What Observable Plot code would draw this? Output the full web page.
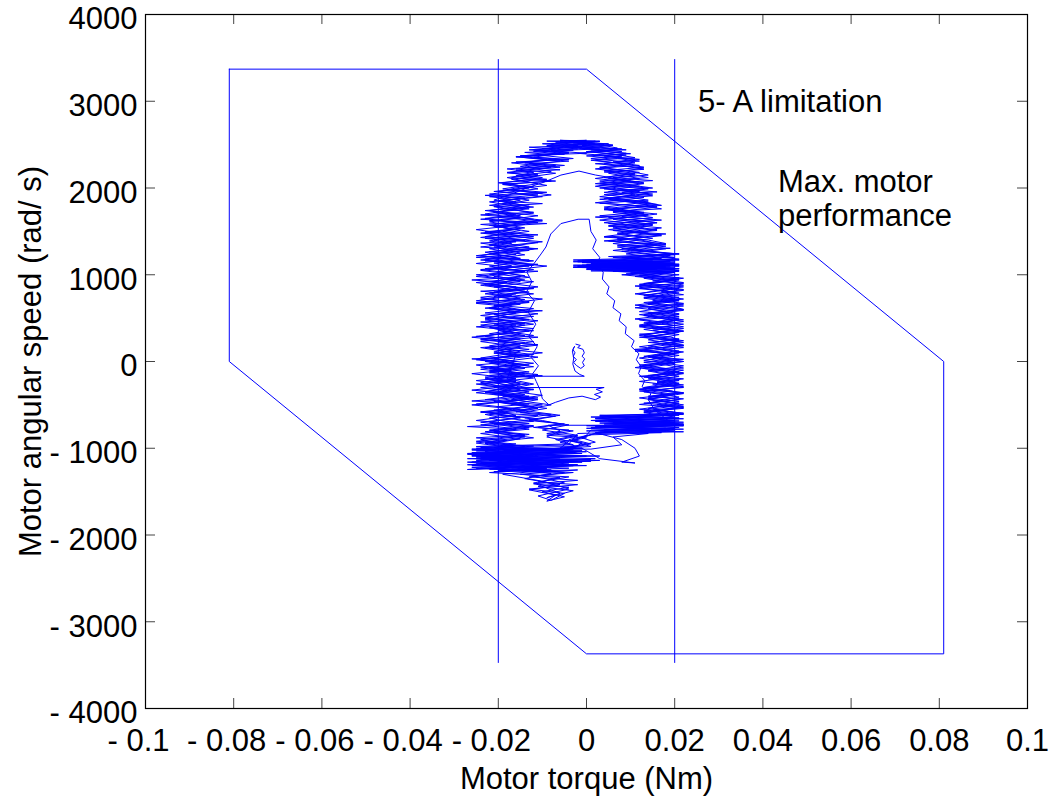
<!DOCTYPE html>
<html>
<head>
<meta charset="utf-8">
<script src="https://cdn.jsdelivr.net/npm/d3@7"></script>
<script src="https://cdn.jsdelivr.net/npm/@observablehq/plot@0.6"></script>
<style>
  html, body { margin: 0; padding: 0; background: #ffffff; }
</style>
</head>
<body>
<div id="chart"></div>
<script>
// Axis ticks
const xTicks = [-0.1, -0.08, -0.06, -0.04, -0.02, 0, 0.02, 0.04, 0.06, 0.08, 0.1];
const yTicks = [-4000, -3000, -2000, -1000, 0, 1000, 2000, 3000, 4000];

// Maximum motor performance envelope (torque in Nm, speed in rad/s)
const envelopeTorque = [-0.081, 0, 0.081, 0.081, 0, -0.081, -0.081];
const envelopeSpeed  = [3370, 3370, 0, -3370, -3370, 0, 3370];

// 5-A current limitation (torque in Nm) and the speed span of its lines
const currentLimitTorque = [-0.02, 0.02];
const currentLimitSpeed = [-3480, 3480];

// Measured operating trajectory: [torque (mNm), speed (rad/s)]
// start-up near standstill, spreading outward
const startUp = [
  [-2.4,200],[-1.4,185],[-2.0,160],[-0.8,140],[-0.5,100],[-1.0,60],[-0.4,30],[-0.9,-10],[-0.5,-50],[-1.3,-80],
  [-2.3,-45],[-2.9,-10],[-2.3,20],[-3.0,60],[-2.6,100],[-3.1,140],[-2.7,175],[-3.2,120],[-2.9,40],[-3.1,-30],
  [-2.6,-110],[-1.5,-150],[-0.5,-170],[-19.5,-170],[-20,-200],[-17,-260],[-15,-300],[4,-300],[2.2,-320],[3.6,-350],
  [1.8,-380],[3.2,-410],[2,-440],[-1,-400],[-4,-420],[-7,-470],[-8.5,-500],[-10,-430],[-10.5,-330],
  [-11.4,-230],[-12.2,-140],[-10.9,-50],[-12.6,50],[-11.2,170],[-13.1,290],[-11.5,430],[-13.2,570],[-11.8,700],
  [-13.6,800],[-12.4,920],[-13.5,1030],[-11.9,1130],[-10.3,1240],[-9.2,1320],[-8.1,1470],[-5.8,1590],[-1.9,1640],
  [0.6,1640],[1.0,1500],[2.2,1400],[1.4,1300],[3.0,1200],[2.4,1110],[3.8,1030],[3.6,950],[5.1,860],[4.6,780],
  [6.4,700],[6.0,620],[7.8,550],[7.4,470],[9.0,400],[8.8,320],[10.8,240],[10.2,170],[11.9,90],[11.3,20],
  [12.4,-60],[11.8,-140],[13.2,-220],[12.6,-290],[14.6,-370],[14.0,-440],[15.5,-560],[18,-660],[19.8,-735],
  [-8.7,-735],[-6,-800],[-9,-870],[-4,-920],[-6,-1000]
];

const cycle1 = [
  [-4,-1050],[-26,-1080],[-6,-1110],[-25,-1140],[-10,-1120],[-24,-1090],
  [-14,-980],[-23,-930],[-12,-880],[-21,-820],[-13,-760],[-24,-700],[-15,-650],[-22,-590],[-11,-540],[-20,-470],
  [-14,-420],[-25,-360],[-16,-300],[-21,-240],[-12,-190],[-22,-120],[-15,-60],[-23,0],[-13,60],[-20,130],
  [-11,190],[-24,250],[-15,320],[-21,380],[-12,430],[-23,500],[-16,560],[-22,620],[-13,690],[-21,750],
  [-14,810],[-24,880],[-16,940],[-22,1000],[-12,1060],[-25,1130],[-15,1190],[-23,1260],[-13,1320],[-22,1390],
  [-15,1450],[-25,1520],[-14,1580],[-23,1650],[-12,1710],[-21,1790],[-13,1860],[-22,1930],[-11,1990],[-19,2060],
  [-10,2120],[-18,2180],
  [-8,2240],[-17,2290],[-6,2330],[-15,2370],[-4,2410],[-12,2440],[-1,2470],[-9,2490],[2,2510],[-5,2530],
  [4,2500],[-3,2480],[7,2450],[0,2420],[9,2380],[1,2340],[11,2290],[3,2240],[12,2180],[4,2120],[13,2060],[3,2000],
  [14,1940],[5,1880],[15,1820],[4,1760],[16,1700],[6,1640],[15,1580],[5,1520],[17,1460],[7,1400],[16,1340],
  [6,1280],[19,1220],[9,1160],
  [21,1120],[-2,1100],[20,1080],[0,1060],[21,1040],[8,1000],
  [21,940],[12,880],[22,820],[13,760],[21,700],[12,640],[20,580],[14,520],[22,460],[12,400],[21,340],[13,280],
  [22,220],[14,160],[21,100],[12,40],[20,-20],[13,-80],[22,-140],[14,-200],[21,-260],[12,-320],[20,-380],
  [14,-440],[22,-500],[13,-560],[21,-620],
  [2,-660],[22,-700],[4,-720],[21,-760],[1,-790],
  [0,-850],[-3,-920],[1,-980],[-6,-1000]
];

const cycle2 = [
  [-2,-1060],[-25,-1030],[-1,-1000],[-27,-1070],[2,-1120],[-24,-1170],[-3,-1200],[-22,-1240],[-5,-1280],
  [-13,-1330],[-2,-1370],[-12,-1410],[-4,-1450],[-10,-1500],[-5,-1560],[-9,-1610],[-7,-1540],[-13,-1480],
  [-6,-1420],[-14,-1350],[-8,-1290],[-26,-1220],[-10,-1180],[-25,-1120],[-12,-1080],[-23,-1040],
  [-17,-960],[-24,-900],[-14,-850],[-22,-790],[-12,-740],[-25,-680],[-16,-620],[-21,-560],[-10,-500],[-23,-440],
  [-14,-380],[-26,-330],[-15,-270],[-22,-210],[-11,-150],[-24,-90],[-16,-30],[-21,40],[-10,100],[-22,160],
  [-14,220],[-26,280],[-13,350],[-20,410],[-11,470],[-24,530],[-14,590],[-21,650],[-10,720],[-23,780],
  [-15,850],[-25,910],[-13,970],[-20,1040],[-9,1100],[-24,1170],[-14,1230],[-22,1300],[-11,1370],[-24,1430],
  [-13,1500],[-21,1560],[-10,1630],[-23,1700],[-14,1770],[-22,1840],[-10,1900],[-20,1960],[-9,2030],[-17,2100],
  [-7,2170],[-16,2220],
  [-5,2260],[-14,2300],[-3,2340],[-11,2380],[0,2400],[-8,2430],[3,2450],[-5,2470],[5,2430],[-2,2400],
  [8,2360],[1,2320],[10,2270],[2,2220],[11,2170],[2,2110],[13,2050],[4,1990],[15,1930],[3,1870],
  [16,1810],[5,1750],[14,1690],[3,1630],[15,1570],[6,1510],[17,1450],[5,1390],[18,1330],[8,1270],[20,1200],
  [-3,1170],[19,1150],[1,1130],[20,1110],[-1,1090],[21,1070],[10,1020],
  [22,960],[13,900],[21,840],[11,780],[20,720],[14,660],[22,600],[12,540],[21,480],[13,420],[20,360],[12,300],
  [22,240],[14,180],[21,120],[13,60],[22,0],[12,-60],[21,-120],[14,-180],[20,-240],[13,-300],[22,-360],
  [12,-420],[21,-480],[14,-540],[22,-600],
  [3,-620],[21,-650],[2,-690],[22,-730],[5,-760],[20,-800],[2,-820],
  [8,-900],[11,-1000],[12,-1090],[8,-1160],[11,-1170],[3,-1120],[-1,-1000]
];

const cycle3 = [
  [-26,-1010],[0,-1040],[-25,-1100],[-2,-1150],[-27,-1190],[-4,-1230],[-20,-1260],[-3,-1200],[-18,-1140],
  [-5,-1090],[-16,-1040],[-2,-980],[-6,-930],
  [0,-880],[-9,-850],[-3,-800],[-11,-760],[-5,-720],[-13,-680],[-7,-630],[-15,-590],[-9,-540],[-17,-490],
  [-11,-440],[-19,-400],[-13,-350],[-21,-300],[-15,-250],[-23,-200],
  [-14,-140],[-22,-80],[-12,-20],[-24,40],[-15,110],[-20,170],[-12,230],[-23,290],[-16,360],[-24,420],
  [-13,480],[-21,540],[-12,610],[-25,670],[-15,730],[-22,790],[-11,860],[-21,920],[-14,990],[-24,1050],
  [-12,1110],[-23,1180],[-15,1250],[-21,1320],[-10,1380],[-23,1440],[-15,1510],[-22,1570],[-12,1640],[-21,1720],
  [-13,1790],[-20,1850],[-8,1920],[-19,1990],[-11,2050],[-18,2120],[-8,2190],[-15,2250],
  [-6,2310],[-16,2360],[-4,2400],[-13,2440],[-2,2480],[-10,2510],[1,2530],[-6,2550],[3,2540],[-3,2520],
  [6,2490],[-1,2460],[8,2420],[2,2380],[12,2330],[4,2280],[13,2230],[5,2170],[12,2110],[2,2050],[14,2000],
  [4,1950],[13,1890],[2,1830],
  [16,1780],[6,1720],[15,1660],[4,1600],[17,1540],[7,1480],[15,1420],[6,1360],[18,1300],[9,1240],[21,1180],
  [-2,1150],[20,1130],[-3,1110],[19,1090],[0,1070],[21,1050],[9,1010],
  [21,950],[12,890],[22,830],[14,770],[21,710],[11,650],[22,590],[13,530],[20,470],[12,410],[22,350],[15,290],
  [21,230],[12,170],[22,110],[14,50],[20,-10],[11,-70],[22,-130],[15,-190],[21,-250],[13,-310],[22,-370],
  [14,-430],[21,-490],[12,-550],[22,-610],
  [1,-640],[20,-680],[3,-710],[22,-740],[0,-770],[18,-800],[-2,-830],[-4,-950]
];

const cycle4 = [
  [-25,-980],[-3,-1010],[-26,-1050],[0,-1090],[-24,-1110],[3,-1140],[-23,-1180],[-6,-1210],[-18,-1250],
  [-3,-1280],[-12,-1320],[-5,-1400],[-11,-1440],[-3,-1490],[-9,-1570],[-6,-1520],[-12,-1400],[-4,-1330],
  [-22,-1280],[-9,-1240],[-27,-1160],[-13,-1120],[-24,-1060],
  [-13,-1010],[-22,-950],[-15,-890],[-24,-830],[-13,-780],[-21,-720],[-11,-660],[-22,-610],[-15,-550],
  [-25,-490],[-13,-430],[-20,-370],[-12,-320],[-24,-260],[-16,-200],[-26,-140],[-14,-80],[-22,-20],[-11,50],
  [-21,110],[-15,170],[-24,230],[-12,300],[-20,360],[-14,420],[-23,480],[-11,550],[-22,610],[-16,670],
  [-24,740],[-13,800],[-21,860],[-12,920],[-25,980],[-14,1040],[-22,1100],[-12,1160],[-24,1220],[-16,1290],
  [-22,1350],[-12,1420],[-24,1480],[-14,1540],[-22,1610],[-11,1680],[-22,1740],[-14,1800],[-21,1860],[-17,1930],
  [-13,2010],[-9.6,2068],[-5.8,2149],[-1.7,2195],[2,2150],
  [10,2080],[2,2020],[12,1960],[3,1900],[14,1840],[4,1780],[13,1720],[5,1660],[16,1600],[6,1540],[14,1480],
  [7,1420],[17,1360],[8,1300],[19,1240],[10,1190],
  [20,1160],[-1,1140],[21,1120],[-2,1100],[18,1080],[2,1060],[20,1030],
  [13,970],[22,910],[12,850],[21,790],[13,730],[22,670],[14,610],[21,550],[11,490],[22,430],[13,370],[21,310],
  [14,250],[22,190],[12,130],[21,70],[13,10],[22,-50],[14,-110],[21,-170],[12,-230],[22,-290],[13,-350],
  [21,-410],[15,-470],[22,-530],[13,-590],[20,-640],
  [1,-680],[21,-720],[2,-750],[22,-780],[4,-810],[14,-830],[6,-870],[8,-960],[1,-1010]
];

const cycle5 = [
  [-26,-1020],[-1,-1060],[-25,-1100],[1,-1130],[-26,-1160],[-2,-1190],[-24,-1230],[-8,-1260],[-20,-1200],
  [-10,-1140],[-23,-1080],[-16,-1000],[-25,-940],[-14,-870],[-23,-810],[-12,-750],[-22,-700],[-15,-640],
  [-24,-580],[-12,-520],[-21,-460],[-13,-400],[-23,-350],[-16,-280],[-25,-220],[-14,-160],[-22,-100],
  [-13,-40],[-24,20],[-16,80],
  [-18,-200],[-12,-260],[-19,-330],[-10,-390],[-17,-440],[-8,-500],[-15,-560],[-6,-620],[-13,-670],
  [-4,-730],[-10,-790],[-2,-850],[-7,-900],[-3,-960]
];

const cycle6 = [
  [-24,-990],[-4,-1020],[-27,-1060],[-7,-1080],[-23,-1110],[1,-1150],[-26,-1200],[-9,-1230],[-21,-1270],
  [-2,-1250],[-15,-1300],[-6,-1340],[-11,-1390],[-2,-1420],[-13,-1470],[-5,-1520],[-8,-1600],[-11,-1550],
  [-4,-1470],[-10,-1380],[-19,-1300],[-8,-1250],[-25,-1180],[-11,-1130],[-26,-1090],[-15,-1040],
  [-21,-990],[-16,-950],[-25,-920],[-18,-880],[-13,-840],[-22,-800],[-17,-770],[-24,-730],[-12,-690],
  [-19,-650],[-23,-610],[-14,-570],[-20,-530],[-26,-500],[-17,-460],[-11,-420],[-21,-380],[-18,-340],
  [-24,-300],[-13,-260],[-19,-220],[-23,-180],[-15,-140],[-21,-100],[-12,-60],[-18,-20],[-25,20],[-16,60],
  [-20,100],[-13,140],[-22,180],[-17,220],[-24,260],[-14,300],[-19,340],[-12,380],[-21,420],[-16,460],
  [-23,500],[-18,540],[-13,580],[-22,620],[-15,660],[-25,700],[-19,740],[-12,780],[-20,820],[-16,860],
  [-23,900],[-14,940],[-21,980],[-17,1020],[-24,1060],[-13,1100],[-20,1140],[-15,1180],[-25,1220],[-18,1260],
  [-11,1300],[-22,1340],[-16,1380],[-23,1420],[-13,1460],[-19,1500],[-15,1540],[-24,1580],[-10,1620],
  [-20,1660],[-16,1700],[-23,1740],[-12,1780],[-19,1820],[-15,1860],[-22,1900],[-10,1940],[-18,1980],
  [-14,2020],[-20,2060],[-9,2100],[-16,2140],[-12,2180],[-18,2220],
  [-7,2260],[-14,2290],[-9,2330],[-16,2360],[-5,2390],[-12,2420],[-7,2450],[-13,2470],[-2,2490],[-8,2510],
  [-3,2530],[-9,2540],[0,2550],[-4,2530],[5,2510],[-1,2490],[3,2470],[9,2440],[0,2420],[6,2390],[11,2350],
  [2,2320],[8,2280],[13,2240],[4,2200],[10,2160],[14,2120],[3,2080],[9,2040],[15,2000],[5,1960],[11,1920],
  [4,1880],[13,1840],[17,1800],[6,1760],[12,1720],[3,1680],[15,1640],[9,1600],[5,1560],[16,1520],[10,1480],
  [4,1440],[14,1400],[18,1360],[7,1320],[12,1280],[21,1240],[6,1200],[15,1170],
  [-3,1150],[20,1130],[-1,1110],[18,1100],[-2,1085],[21,1070],[4,1050],[19,1030],
  [11,980],[20,940],[14,900],[22,860],[16,820],[12,780],[21,740],[15,700],[22,660],[11,620],[18,580],
  [13,540],[21,500],[16,460],[12,420],[22,380],[17,340],[13,300],[21,260],[15,220],[22,180],[11,140],
  [19,100],[14,60],[21,20],[16,-20],[12,-60],[22,-100],[17,-140],[13,-180],[21,-220],[15,-260],[22,-300],
  [12,-340],[19,-380],[14,-420],[21,-460],[16,-500],[22,-540],[13,-580],[20,-620],
  [5,-640],[22,-660],[2,-680],[20,-700],[6,-720],[22,-740],[1,-760],[19,-780],[3,-810],
  [-1,-880],[2,-930],[-3,-980]
];

const cycle7 = [
  [-25,-1000],[-1,-1030],[-24,-1060],[3,-1090],[-27,-1120],[-5,-1150],[-22,-1170],[0,-1200],[-25,-1230],
  [-7,-1270],[-17,-1240],[-4,-1190],[-20,-1130],[-9,-1070],[-3,-1000],[-1,-940],
  [-6,-900],[-2,-860],[-9,-830],[-4,-790],[-12,-760],[-6,-720],[-10,-680],[-14,-650],[-8,-610],[-16,-580],
  [-11,-540],[-15,-500],[-19,-470],[-12,-430],[-18,-390],[-22,-360],[-15,-320],[-20,-280],[-24,-240],[-16,-200],
  [-22,-160],[-13,-120],[-20,-80],[-25,-40],[-16,0],[-21,40],[-12,80],[-19,120],[-24,160],[-15,200],
  [-20,240],[-11,280],[-22,320],[-17,360],[-25,400],[-14,440],[-20,480],[-12,520],[-23,560],[-16,600],
  [-21,640],[-13,680],[-24,720],[-17,760],[-21,800],[-12,840],[-23,880],[-15,920],[-20,960],[-25,1000],
  [-14,1040],[-21,1080],[-11,1120],[-23,1160],[-16,1200],[-22,1240],[-13,1280],[-24,1320],[-17,1360],
  [-21,1400],[-12,1440],[-23,1480],[-16,1520],[-21,1560],[-11,1600],[-24,1640],[-15,1680],[-21,1720],
  [-13,1760],[-22,1800],[-16,1840],[-20,1880],[-11,1920],[-21,1960],[-13,2000],[-19,2040],[-8,2080],
  [-17,2120],[-11,2160],[-16,2200],[-6,2240],
  [-13,2280],[-4,2310],[-11,2340],[-15,2370],[-6,2400],[-10,2430],[-2,2450],[-9,2480],[-4,2500],[1,2520],
  [-6,2530],[2,2540],[-2,2510],[4,2490],[7,2460],[1,2440],[9,2400],[4,2370],[11,2330],[6,2300],[12,2260],
  [3,2230],[10,2190],[14,2150],[5,2110],[12,2070],[3,2030],[14,1990],[8,1950],
  [15,1910],[5,1870],[11,1830],[16,1790],[4,1750],[13,1710],[8,1670],[17,1630],[5,1590],[12,1550],[16,1510],
  [7,1470],[13,1430],[4,1390],[18,1350],[10,1310],[15,1270],[20,1230],[8,1200],
  [21,1170],[-2,1160],[17,1140],[0,1120],[21,1100],[-3,1090],[20,1060],[6,1040],
  [21,1000],[13,960],[18,920],[22,880],[12,840],[20,800],[16,760],[22,720],[13,680],[19,640],[22,600],
  [14,560],[21,520],[12,480],[17,440],[22,400],[15,360],[20,320],[12,280],[21,240],[17,200],[22,160],
  [13,120],[20,80],[15,40],[22,0],[12,-40],[18,-80],[21,-120],[14,-160],[22,-200],[16,-240],[20,-280],
  [12,-320],[22,-360],[15,-400],[21,-440],[13,-480],[22,-520],[17,-560],[21,-600],
  [3,-630],[21,-660],[5,-690],[22,-720],[0,-740],[18,-770],[4,-790],[22,-810],[2,-830],[-4,-900],[0,-950],[-5,-1000]
];

const cycle8 = [
  [-18,-1020],[-3,-1045],[-26,-1075],[-11,-1095],[-24,-1125],[-1,-1160],[-20,-1185],[-8,-1215],[-27,-1245],
  [-14,-1210],[-4,-1170],[-22,-1140],
  [-19,-1100],[-26,-1070],[-15,-1040],[-20,-1005],[-12,-975],[-23,-945],[-18,-910],[-25,-880],[-14,-845],
  [-21,-815],[-16,-780],[-27,-750],[-13,-715],[-19,-685],[-22,-650],[-11,-620],[-24,-585],[-17,-555],
  [-20,-520],[-13,-490],[-26,-455],[-18,-425],[-15,-390],[-23,-360],[-12,-325],[-20,-295],[-25,-260],
  [-16,-230],[-21,-195],[-10,-165],[-22,-130],[-17,-100],[-24,-65],[-14,-35],[-19,0],[-26,30],[-13,65],
  [-21,95],[-17,130],[-23,160],[-11,195],[-20,225],[-15,260],[-25,290],[-18,325],[-12,355],[-22,390],
  [-16,420],[-24,455],[-13,485],[-19,520],[-21,550],[-10,585],[-23,615],[-17,650],[-25,680],[-14,715],
  [-20,745],[-16,780],[-24,810],[-12,845],[-22,875],[-18,910],[-26,940],[-15,975],[-20,1005],[-11,1040],
  [-23,1070],[-17,1105],[-21,1135],[-13,1170],[-25,1200],[-16,1235],[-22,1265],[-12,1300],[-19,1330],
  [-24,1365],[-14,1395],[-21,1430],[-11,1460],[-23,1495],[-17,1525],[-20,1560],[-9,1590],[-22,1625],
  [-15,1655],[-24,1690],[-12,1720],[-18,1755],[-21,1785],[-10,1820],[-20,1850],[-14,1885],[-23,1915],
  [-9,1950],[-17,1980],[-12,2015],[-19,2045],[-7,2080],[-15,2110],[-11,2145],[-18,2175],[-6,2210],[-14,2240],
  [-10,2275],[-16,2300],[-4,2330],[-12,2355],[-8,2385],[-14,2410],[-3,2435],[-10,2455],[-5,2480],[0,2500],
  [-7,2520],[3,2535],[-3,2545],[2,2520],[6,2495],[-2,2475],[8,2450],[3,2425],[10,2395],[0,2370],[7,2340],
  [12,2310],[2,2280],[9,2250],[13,2215],[4,2185],[11,2150],[6,2120],[15,2085],[3,2055],[12,2020],[7,1990],
  [16,1955],[4,1925],[10,1890],[14,1860],
  [3,1825],[12,1795],[17,1760],[6,1730],[14,1695],[2,1665],[11,1630],[16,1600],[5,1565],[13,1535],[8,1500],
  [18,1470],[4,1435],[12,1405],[15,1370],[7,1340],[19,1305],[10,1275],[21,1240],[5,1210],[17,1185],
  [-1,1165],[20,1145],[3,1125],[21,1105],[-3,1085],[16,1065],[1,1045],[20,1025],
  [12,995],[21,965],[15,930],[22,900],[11,870],[19,835],[17,805],[22,770],[13,740],[20,705],[14,675],
  [22,640],[16,610],[12,575],[21,545],[18,510],[22,480],[13,445],[20,415],[15,380],[22,350],[12,315],
  [19,285],[21,250],[14,220],[22,185],[16,155],[11,120],[20,90],[15,55],[22,25],[13,-10],[18,-40],
  [22,-75],[14,-105],[20,-140],[12,-170],[21,-205],[16,-235],[22,-270],[13,-300],[19,-335],[21,-365],
  [14,-400],[22,-430],[17,-465],[12,-495],[21,-530],[15,-560],[22,-595],[14,-625],
  [2,-655],[21,-685],[6,-705],[22,-725],[3,-750],[20,-775],[0,-800],[17,-820],[1,-845],[-3,-900],[1,-950],[-4,-1000]
];

const trajectory = [...startUp, ...cycle1, ...cycle2, ...cycle3, ...cycle4, ...cycle5, ...cycle6, ...cycle7, ...cycle8]
  .map(([torque, speed]) => ({torque: torque / 1000, speed}));

const envelope = envelopeTorque.map((torque, i) => ({torque, speed: envelopeSpeed[i]}));

// Layout
const W = 1059, H = 805;
const mL = 145, mR = 32, mT = 14, mB = 97;
const innerW = W - mL - mR, innerH = H - mT - mB;
const tickLen = 10;
const blue = "#0000ff";

const fmt = d => d === 0 ? "0" : (d < 0 ? "- " : "") + String(Math.abs(d));
const negX = xTicks.filter(d => d < 0);
const posX = xTicks.filter(d => d >= 0);

const chart = Plot.plot({
  width: W,
  height: H,
  marginLeft: mL,
  marginRight: mR,
  marginTop: mT,
  marginBottom: mB,
  style: {
    fontFamily: "'Liberation Sans', Arial, Helvetica, sans-serif",
    fontSize: "31px",
    color: "#000",
    background: "#fff",
    overflow: "visible"
  },
  x: {domain: [-0.1, 0.1]},
  y: {domain: [-4000, 4000]},
  marks: [
    // envelope and current limits
    Plot.line(envelope, {x: "torque", y: "speed", stroke: blue, strokeWidth: 1}),
    Plot.ruleX(currentLimitTorque, {x: d => d, y1: currentLimitSpeed[0], y2: currentLimitSpeed[1], stroke: blue, strokeWidth: 1}),
    // operating trajectory
    Plot.line(trajectory, {x: "torque", y: "speed", stroke: blue, strokeWidth: 1}),
    // inward ticks on all four sides
    Plot.ruleX(xTicks, {x: d => d, insetTop: innerH - tickLen, stroke: "#444"}),
    Plot.ruleX(xTicks, {x: d => d, insetBottom: innerH - tickLen, stroke: "#444"}),
    Plot.ruleY(yTicks, {y: d => d, insetRight: innerW - tickLen, stroke: "#444"}),
    Plot.ruleY(yTicks, {y: d => d, insetLeft: innerW - tickLen, stroke: "#444"}),
    Plot.frame({stroke: "#000", strokeWidth: 1.2}),
    // tick labels
    Plot.axisX({ticks: negX, tickSize: 0, tickPadding: 20, tickFormat: fmt, label: null, dx: -7}),
    Plot.axisX({ticks: posX, tickSize: 0, tickPadding: 20, tickFormat: fmt, label: null}),
    Plot.axisY({ticks: yTicks, tickSize: 0, tickPadding: 8, tickFormat: fmt, label: null, dy: 5}),
    // axis titles
    Plot.text(["Motor torque (Nm)"], {text: d => d, frameAnchor: "bottom", dy: 80, fill: "#000"}),
    Plot.text(["Motor angular speed (rad/ s)"], {text: d => d, frameAnchor: "left", textAnchor: "middle", dx: -114, rotate: -90, fill: "#000"}),
    // annotations
    Plot.text(["5- A limitation"], {text: d => d, x: 0.0253, y: 2987, textAnchor: "start", fill: "#000"}),
    Plot.text(["Max. motor\nperformance"], {text: d => d, x: 0.0434, y: 1884, textAnchor: "start", lineHeight: 1.1, fill: "#000"})
  ]
});

document.getElementById("chart").appendChild(chart);
</script>
</body>
</html>
